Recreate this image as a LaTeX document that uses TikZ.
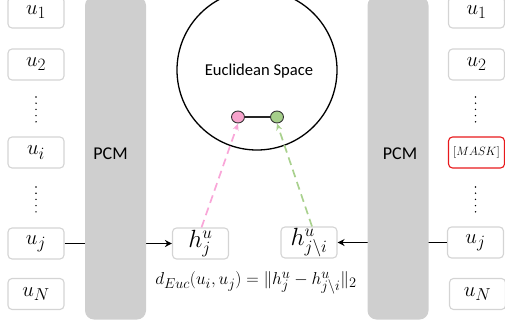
\documentclass[tikz,border=0pt]{standalone}
\usepackage{fontspec}
\setsansfont{Carlito}
\usetikzlibrary{arrows.meta,shapes.geometric}
\DeclareMathSizes{22}{22}{18}{14}
\DeclareMathSizes{24}{24}{18}{14}
\DeclareMathSizes{19}{19}{14.5}{11}
\DeclareMathSizes{13}{13}{9}{7}
\definecolor{boxgray}{HTML}{D4D4D4}
\definecolor{bargray}{HTML}{CFCFCF}
\definecolor{pinkc}{HTML}{F9A6D8}
\definecolor{pinkfill}{HTML}{F7A3CC}
\definecolor{greenc}{HTML}{A9D18E}
\definecolor{greenfill}{HTML}{A5CF8A}
\definecolor{maskred}{HTML}{E8191C}
\begin{document}
\begin{tikzpicture}[x=1pt,y=-1pt,
  tok/.style={draw=boxgray, line width=1.1pt, rounded corners=4pt, minimum width=56pt, minimum height=31pt, inner sep=0pt, fill=white, font=\fontsize{22}{24}\selectfont},
  hbox/.style={tok, font=\fontsize{24}{26}\selectfont},
  maskbox/.style={tok, draw=maskred, font=\fontsize{13}{15}\selectfont},
  bar/.style={fill=bargray, rounded corners=9pt, draw=none, minimum width=61pt, minimum height=323pt, inner sep=0pt},
  barlabel/.style={font=\sffamily\fontsize{18}{20}\selectfont},
  vdots/.style={line width=1.6pt, line cap=round, dash pattern=on 0pt off 6.2pt},
  arr/.style={line width=1.9pt, -{Stealth[length=7pt,width=7pt]}},
  dashpink/.style={draw=pinkc, line width=1.7pt, dash pattern=on 8pt off 5pt, -{Stealth[length=7pt,width=6pt]}},
  dashgreen/.style={draw=greenc, line width=1.7pt, dash pattern=on 8pt off 5pt, -{Stealth[length=7pt,width=6pt]}},
  dot/.style={draw=black!80, line width=0.9pt, ellipse, minimum width=13pt, minimum height=12pt, inner sep=0pt}
]
\useasboundingbox (0,0) rectangle (505,326);
% left tokens
\node[tok] (lu1) at (36,12.5) {$u_1$};
\node[tok] (lu2) at (36,64.5) {$u_2$};
\node[tok] (lui) at (36,152.5) {$u_i$};
\node[tok] (luj) at (36,243.5) {$u_j$};
\node[tok] (luN) at (36,294) {$u_N$};
\draw[vdots] (36,97) -- (36,123);
\draw[vdots] (36,187) -- (36,213);
% right tokens
\node[tok] (ru1) at (476.5,12.5) {$u_1$};
\node[tok] (ru2) at (476.5,64.5) {$u_2$};
\node[maskbox] (rmask) at (476.5,152.5) {$[MASK]$};
\node[tok] (ruj) at (475.5,242.5) {$u_j$};
\node[tok] (ruN) at (477.5,294) {$u_N$};
\draw[vdots] (475.5,97) -- (475.5,123);
\draw[vdots] (475.5,187) -- (475.5,213);
% hidden states
\node[hbox] (hj) at (200.5,243.5) {$h^u_j$};
\node[hbox] (hji) at (309,242.5) {$h^u_{j\setminus i}$};
% arrows (behind bars)
\draw[arr] (luj.east) -- (hj.west);
\draw[arr] (ruj.west) -- (hji.east);
% bars
\node[bar] (pcmL) at (115.5,158) {};
\node[bar] (pcmR) at (398,158) {};
\node[barlabel] (pcmLt) at (110.5,154) {PCM};
\node[barlabel] (pcmRt) at (400,154) {PCM};
% Euclidean space
\node[draw, circle, line width=1.3pt, minimum size=160pt, inner sep=0pt] (space) at (257,70) {};
\node[font=\sffamily\fontsize{16.6}{20}\selectfont] (spacet) at (259,71) {Euclidean Space};
\node[dot, fill=pinkfill] (pd) at (238,117) {};
\node[dot, fill=greenfill] (gd) at (277,117) {};
\draw[line width=1.2pt, black!85] (pd) -- (gd);
\draw[dashpink] (hj.north) ++(1,0) -- (pd.south);
\draw[dashgreen] (hji.north) ++(3,0) -- (gd.south);
% equation
\node[font=\fontsize{19}{21}\selectfont] (eq) at (256,283) {$d_{Euc}(u_i,u_j)=\|h^u_j-h^u_{j\setminus i}\|_2$};
\end{tikzpicture}
\end{document}
